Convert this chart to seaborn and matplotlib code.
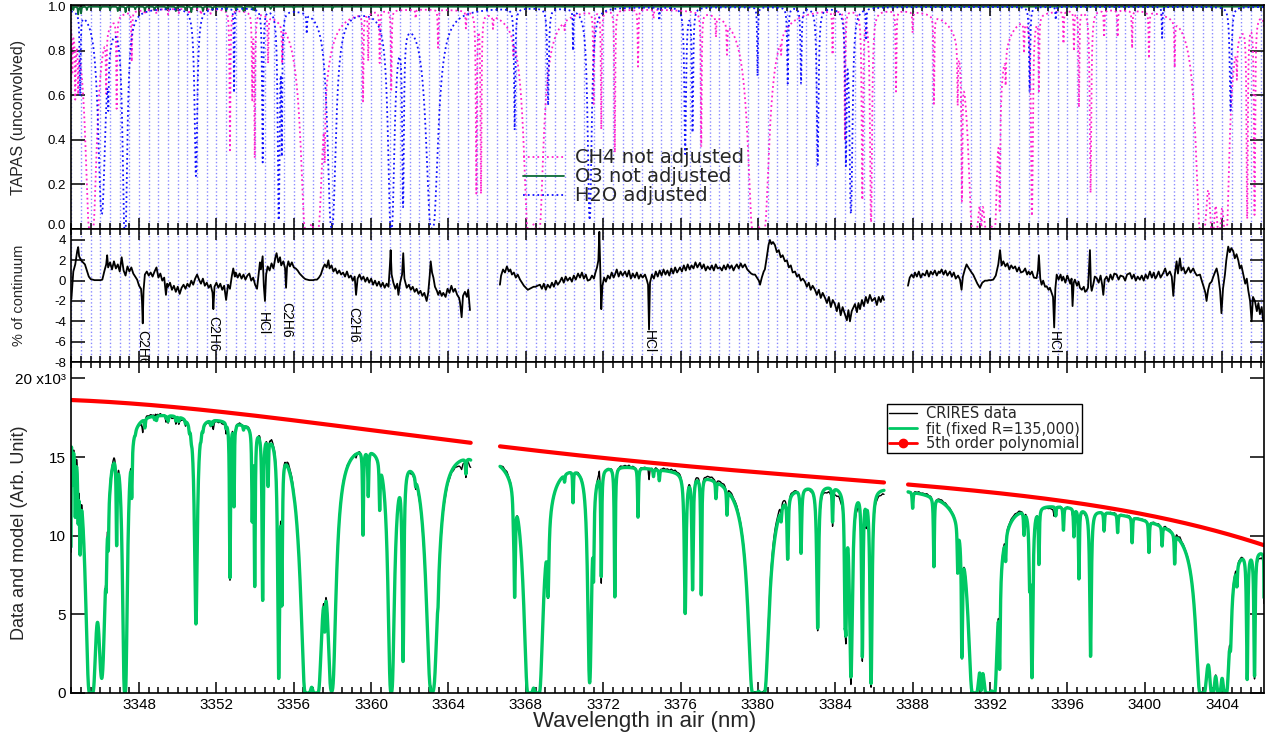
import numpy as np
import pandas as pd
import matplotlib
matplotlib.use("Agg")
import matplotlib.pyplot as plt
import seaborn as sns
from matplotlib.lines import Line2D
from matplotlib.ticker import MultipleLocator, FixedLocator, FuncFormatter

sns.set_theme(style="ticks")
plt.rcParams["font.family"] = ["Liberation Sans", "DejaVu Sans"]
plt.rcParams["axes.unicode_minus"] = False

# ---------------------------------------------------------------------------
# Telluric line lists (centre nm, peak optical depth, Lorentz half width nm)
# ---------------------------------------------------------------------------
H2O_CENTER = [3344.95, 3346.07, 3346.41, 3347.27, 3350.94, 3352.91, 3354.39, 3355.22,
              3355.38, 3356.67, 3357.96, 3361.04, 3361.65, 3363.15, 3367.42, 3369.15,
              3370.44, 3371.30, 3374.90, 3376.24, 3376.62, 3379.98, 3381.54, 3382.23,
              3383.09, 3384.55, 3384.81, 3385.60, 3394.05, 3395.40, 3400.90, 3404.44]
H2O_TAU = [0.48, 2.7, 0.31, 8.0, 1.43, 0.49, 1.2, 3.2,
           1.0, 0.094, 5.0, 6.0, 2.2, 6.0, 0.8, 0.58,
           0.2, 3.2, 0.06, 1.08, 0.82, 0.37, 0.42, 0.42,
           1.24, 1.17, 2.66, 0.15, 0.48, 0.06, 0.15, 0.63]
H2O_WIDTH = [0.025, 0.12, 0.02, 0.045, 0.06, 0.015, 0.025, 0.03,
             0.02, 0.02, 0.10, 0.07, 0.03, 0.13, 0.03, 0.04,
             0.015, 0.06, 0.02, 0.04, 0.03, 0.02, 0.03, 0.03,
             0.04, 0.03, 0.05, 0.015, 0.03, 0.02, 0.02, 0.045]

CH4_CENTER = [3344.55, 3344.70, 3344.85, 3345.52, 3346.30, 3346.84, 3347.62, 3348.30,
              3348.90, 3349.50, 3350.05, 3350.60, 3351.20, 3351.70, 3352.70, 3353.85,
              3353.98, 3354.67, 3355.40, 3356.70, 3357.15, 3357.60, 3359.58, 3359.85,
              3360.44, 3361.04, 3362.30, 3363.46, 3364.90, 3365.44, 3365.68, 3366.30,
              3367.35, 3368.20, 3368.60, 3370.00, 3371.50, 3371.90, 3372.60, 3373.80,
              3374.60, 3377.07, 3377.83, 3378.40, 3379.83, 3380.23, 3381.20, 3383.86,
              3384.50, 3385.40, 3385.85, 3387.14, 3388.00, 3389.10, 3390.33, 3390.55,
              3391.20, 3391.55, 3391.90, 3392.20, 3392.50, 3392.81, 3393.76, 3394.17,
              3394.53, 3395.80, 3396.34, 3396.60, 3397.20, 3397.90, 3398.60, 3399.35,
              3400.22, 3401.55, 3402.97, 3403.50, 3403.84, 3404.18, 3404.77, 3405.30,
              3405.68, 3406.25]
CH4_TAU = [0.25, 0.40, 0.30, 20.0, 0.35, 0.56, 0.26, 0.02,
           0.02, 0.025, 0.02, 0.025, 0.025, 0.02, 1.05, 0.5,
           1.1, 0.25, 0.2, 40.0, 40.0, 0.6, 0.52, 0.25,
           0.27, 0.45, 0.04, 0.19, 0.08, 1.8, 1.8, 0.06,
           0.08, 40.0, 40.0, 0.04, 0.55, 0.78, 1.05, 0.30,
           0.04, 0.97, 0.10, 0.16, 40.0, 40.0, 0.08, 0.22,
           0.9, 2.0, 3.5, 0.46, 0.1, 0.53, 0.39, 1.8,
           40.0, 3.0, 40.0, 15.0, 1.9, 0.2, 0.16, 2.8,
           0.43, 0.16, 0.2, 0.58, 1.8, 0.13, 0.13, 0.19,
           0.24, 0.25, 40.0, 12.0, 12.0, 15.0, 0.2, 3.0,
           2.7, 0.5]
CH4_WIDTH = [0.02, 0.02, 0.02, 0.066, 0.02, 0.02, 0.02, 0.02,
             0.02, 0.02, 0.02, 0.02, 0.02, 0.02, 0.02, 0.02,
             0.02, 0.02, 0.02, 0.05, 0.05, 0.02, 0.02, 0.02,
             0.02, 0.02, 0.02, 0.02, 0.02, 0.02, 0.02, 0.02,
             0.02, 0.045, 0.045, 0.02, 0.02, 0.02, 0.02, 0.02,
             0.02, 0.02, 0.02, 0.02, 0.05, 0.05, 0.02, 0.02,
             0.02, 0.025, 0.03, 0.02, 0.02, 0.02, 0.02, 0.02,
             0.05, 0.03, 0.05, 0.04, 0.02, 0.02, 0.02, 0.03,
             0.02, 0.02, 0.02, 0.02, 0.03, 0.02, 0.02, 0.02,
             0.02, 0.02, 0.05, 0.05, 0.05, 0.05, 0.02, 0.02,
             0.02, 0.03]

O3_CENTER = [3344.60, 3344.85, 3345.00, 3345.30, 3346.00, 3346.50, 3346.90, 3347.30,
             3347.80, 3348.30, 3348.80, 3349.40, 3349.90, 3350.40, 3350.70, 3351.30,
             3351.80, 3352.50, 3353.00, 3353.40, 3353.90, 3354.80, 3356.00, 3358.00,
             3360.50, 3366.00, 3372.00, 3380.00]
O3_TAU = [0.015, 0.035, 0.03, 0.015, 0.012, 0.015, 0.02, 0.025,
          0.012, 0.02, 0.015, 0.012, 0.02, 0.015, 0.025, 0.02,
          0.015, 0.02, 0.012, 0.02, 0.015, 0.01, 0.008, 0.008,
          0.006, 0.005, 0.005, 0.004]
O3_WIDTH = [0.02] * len(O3_CENTER)

# ---------------------------------------------------------------------------
# Fit residual (wavelength nm, % of continuum) for each detector chip
# ---------------------------------------------------------------------------
RES_CHIP1 = [
    (3344.50, -1.8), (3344.60, 0.9), (3344.70, 1.6), (3344.80, 2.9), (3344.85, 3.3),
    (3344.90, 2.4), (3345.00, 2.0), (3345.10, 1.8), (3345.20, 1.6), (3345.30, 1.0),
    (3345.40, 0.4), (3345.50, 0.15), (3345.60, 0.1), (3345.70, 0.05), (3345.80, 0.05),
    (3345.90, 0.05), (3346.00, 0.05), (3346.10, 0.1), (3346.20, 0.9), (3346.30, 1.6),
    (3346.35, 2.5), (3346.40, 1.3), (3346.50, 1.8), (3346.60, 1.1), (3346.70, 1.9),
    (3346.80, 1.2), (3346.90, 1.6), (3347.00, 0.9), (3347.10, 2.3), (3347.20, 1.0),
    (3347.30, 0.5), (3347.40, 1.4), (3347.50, 0.9), (3347.60, 1.3), (3347.70, 0.7),
    (3347.80, 0.4), (3347.90, 0.1), (3348.00, -0.5), (3348.10, -0.8), (3348.15, -2.0),
    (3348.19, -4.2), (3348.23, -1.0), (3348.30, 0.6), (3348.40, 0.9), (3348.50, 0.5),
    (3348.60, 0.8), (3348.70, 0.4), (3348.80, 0.9), (3348.90, 1.3), (3349.00, 0.3),
    (3349.10, 0.7), (3349.20, 0.0), (3349.30, 0.3), (3349.39, -1.4), (3349.45, -0.3),
    (3349.50, -0.6), (3349.60, -0.2), (3349.70, -0.9), (3349.80, -0.5), (3349.90, -1.1),
    (3350.00, -0.6), (3350.10, -1.3), (3350.20, -0.7), (3350.30, -0.4), (3350.40, -0.8),
    (3350.50, -0.3), (3350.60, -0.6), (3350.70, 0.0), (3350.80, -0.4), (3350.90, 0.2),
    (3351.00, 0.6), (3351.10, 0.1), (3351.20, -0.3), (3351.30, 0.2), (3351.40, -0.5),
    (3351.50, -0.2), (3351.60, -0.7), (3351.70, -0.4), (3351.80, -1.2), (3351.84, -2.8),
    (3351.90, -0.6), (3352.00, -0.2), (3352.10, -0.7), (3352.20, -0.3), (3352.30, -0.9),
    (3352.40, -0.5), (3352.50, -1.9), (3352.60, -0.4), (3352.70, -0.8), (3352.80, 0.5),
    (3352.87, 1.2), (3352.95, 0.4), (3353.00, 0.8), (3353.10, 0.3), (3353.20, 0.7),
    (3353.30, 0.2), (3353.40, 0.6), (3353.50, 0.1), (3353.60, 0.5), (3353.70, 0.7),
    (3353.80, 0.0), (3353.90, 0.3), (3354.00, -0.4), (3354.10, -0.8), (3354.20, 0.9),
    (3354.25, 1.8), (3354.30, 1.1), (3354.39, 2.4), (3354.45, -0.5), (3354.51, -2.0),
    (3354.57, 0.6), (3354.65, 1.4), (3354.75, 1.0), (3354.85, 1.7), (3354.95, 1.2),
    (3355.05, 2.3), (3355.11, 2.7), (3355.20, 1.8), (3355.29, 2.3), (3355.35, 1.5),
    (3355.46, 1.9), (3355.55, 1.2), (3355.60, -0.7), (3355.65, 1.3), (3355.72, 1.9),
    (3355.80, 1.4), (3355.90, 1.8), (3356.00, 1.3), (3356.10, 1.2), (3356.20, 1.0),
    (3356.30, 0.7), (3356.40, 0.5), (3356.50, 0.3), (3356.60, 0.15), (3356.70, 0.1),
    (3356.80, 0.05), (3356.90, 0.05), (3357.00, 0.05), (3357.10, 0.1), (3357.20, 0.1),
    (3357.30, 0.3), (3357.40, 0.6), (3357.50, 1.2), (3357.60, 1.6), (3357.70, 1.3),
    (3357.79, 2.0), (3357.85, 1.2), (3357.95, 1.5), (3358.05, 0.9), (3358.15, 1.2),
    (3358.25, 0.7), (3358.35, 1.0), (3358.45, 0.6), (3358.55, 0.8), (3358.65, 0.4),
    (3358.75, 0.9), (3358.85, 0.3), (3358.95, 0.5), (3359.05, 0.0), (3359.15, 0.4),
    (3359.22, -1.4), (3359.30, 0.2), (3359.40, 0.6), (3359.50, 0.1), (3359.60, 0.4),
    (3359.70, -0.1), (3359.80, 0.3), (3359.90, -0.2), (3360.00, 0.2), (3360.10, -0.4),
    (3360.20, 0.0), (3360.30, -0.5), (3360.40, -0.1), (3360.50, -0.6), (3360.60, -0.2),
    (3360.70, -0.7), (3360.80, -0.3), (3360.90, -0.6), (3360.97, 1.5), (3361.01, 3.0),
    (3361.06, 0.6), (3361.15, -0.2), (3361.25, -0.8), (3361.35, -0.3), (3361.41, -1.4),
    (3361.50, -0.2), (3361.60, 0.6), (3361.66, 2.7), (3361.72, 0.2), (3361.84, -0.7),
    (3361.95, -0.4), (3362.05, -0.9), (3362.15, -0.6), (3362.25, -1.1), (3362.35, -0.8),
    (3362.45, -1.3), (3362.55, -1.0), (3362.65, -1.5), (3362.75, -1.2), (3362.87, -2.0),
    (3362.95, -1.2), (3363.03, 0.5), (3363.08, 1.9), (3363.15, 0.8), (3363.22, 0.3),
    (3363.30, -0.6), (3363.40, -1.0), (3363.47, -1.4), (3363.55, -1.0), (3363.65, -1.5),
    (3363.73, -1.2), (3363.85, -1.6), (3363.95, -0.8), (3364.05, -1.2), (3364.15, -0.5),
    (3364.25, -1.1), (3364.34, -0.8), (3364.45, -1.4), (3364.55, -1.7), (3364.60, -2.2),
    (3364.68, -3.6), (3364.75, -1.5), (3364.85, -1.1), (3364.95, -1.6), (3365.02, -0.9),
    (3365.11, -2.9)]

RES_CHIP2 = [
    (3366.66, -0.4), (3366.72, 0.5), (3366.82, 1.1), (3366.92, 0.8), (3367.02, 1.4),
    (3367.12, 0.9), (3367.20, 1.1), (3367.28, 0.6), (3367.38, 0.8), (3367.48, 0.3),
    (3367.58, 0.6), (3367.70, 0.1), (3367.80, -0.2), (3367.90, -0.5), (3368.00, -0.7),
    (3368.10, -0.9), (3368.20, -0.8), (3368.30, -0.7), (3368.40, -0.6), (3368.50, -0.6),
    (3368.60, -0.5), (3368.73, -0.4), (3368.83, -0.8), (3368.93, -0.3), (3369.03, -0.9),
    (3369.13, -0.4), (3369.25, -0.7), (3369.35, -0.2), (3369.45, -0.6), (3369.55, 0.0),
    (3369.65, -0.4), (3369.76, -0.1), (3369.86, 0.3), (3369.96, -0.2), (3370.06, 0.4),
    (3370.16, 0.0), (3370.28, 0.3), (3370.38, -0.1), (3370.48, 0.5), (3370.58, 0.1),
    (3370.70, 0.7), (3370.80, 0.3), (3370.90, 0.8), (3371.00, 0.2), (3371.10, 0.6),
    (3371.20, 0.0), (3371.32, 0.1), (3371.42, 0.5), (3371.52, 0.2), (3371.60, 0.8),
    (3371.68, 1.3), (3371.75, 2.0), (3371.80, 4.8), (3371.85, 1.0), (3371.90, -2.8),
    (3371.96, -0.5), (3372.05, 0.3), (3372.14, -0.1), (3372.24, 0.5), (3372.34, 0.2),
    (3372.44, 0.8), (3372.54, 0.3), (3372.61, 0.6), (3372.70, 1.1), (3372.80, 0.4),
    (3372.90, 0.9), (3373.00, 0.5), (3373.13, 0.9), (3373.23, 0.4), (3373.33, 1.0),
    (3373.43, 0.2), (3373.53, 0.7), (3373.64, 0.3), (3373.74, 0.8), (3373.84, 0.2),
    (3373.94, 0.6), (3374.04, 0.3), (3374.16, 0.6), (3374.25, 0.1), (3374.32, -0.4),
    (3374.37, -4.8), (3374.42, -0.2), (3374.52, 0.6), (3374.62, 0.2), (3374.72, 0.9),
    (3374.82, 0.4), (3374.92, 1.0), (3375.02, 0.5), (3375.12, 1.1), (3375.22, 0.6),
    (3375.32, 1.0), (3375.42, 0.5), (3375.52, 1.2), (3375.62, 0.7), (3375.72, 1.3),
    (3375.82, 0.8), (3375.97, 1.3), (3376.07, 0.9), (3376.17, 1.5), (3376.27, 1.0),
    (3376.37, 1.6), (3376.47, 1.1), (3376.57, 1.5), (3376.67, 1.2), (3376.77, 1.8),
    (3376.87, 1.3), (3377.00, 1.75), (3377.10, 1.2), (3377.20, 1.6), (3377.30, 1.0),
    (3377.40, 1.4), (3377.52, 1.1), (3377.62, 1.5), (3377.72, 1.0), (3377.82, 1.6),
    (3377.92, 1.2), (3378.04, 1.3), (3378.14, 1.0), (3378.24, 1.5), (3378.34, 1.1),
    (3378.44, 1.6), (3378.54, 1.2), (3378.64, 1.5), (3378.74, 1.0), (3378.81, 1.3),
    (3378.91, 1.6), (3379.01, 1.2), (3379.11, 1.7), (3379.21, 1.3), (3379.33, 1.6),
    (3379.45, 1.1), (3379.55, 0.9), (3379.65, 0.7), (3379.75, 0.6), (3379.85, 0.6),
    (3379.95, 0.3), (3380.05, 0.0), (3380.11, -0.4), (3380.20, 0.3), (3380.30, 0.9),
    (3380.36, 1.1), (3380.45, 2.2), (3380.55, 3.5), (3380.62, 4.0), (3380.70, 3.6),
    (3380.78, 3.8), (3380.88, 3.5), (3380.98, 2.8), (3381.08, 3.0), (3381.18, 2.3),
    (3381.28, 2.5), (3381.40, 1.9), (3381.50, 2.0), (3381.60, 1.3), (3381.70, 1.5),
    (3381.80, 0.8), (3381.92, 0.9), (3382.02, 0.4), (3382.12, 0.6), (3382.22, 0.0),
    (3382.32, 0.2), (3382.43, -0.1), (3382.53, -0.6), (3382.63, -0.2), (3382.73, -0.9),
    (3382.83, -0.5), (3382.95, -0.9), (3383.05, -1.4), (3383.15, -0.9), (3383.25, -1.7),
    (3383.35, -1.2), (3383.47, -1.7), (3383.57, -2.2), (3383.67, -1.6), (3383.77, -2.6),
    (3383.87, -1.9), (3383.98, -2.3), (3384.08, -3.0), (3384.18, -2.2), (3384.28, -3.4),
    (3384.38, -2.6), (3384.50, -3.3), (3384.60, -3.9), (3384.68, -2.9), (3384.76, -4.0),
    (3384.85, -3.0), (3385.02, -2.3), (3385.12, -3.1), (3385.20, -2.2), (3385.28, -2.8),
    (3385.38, -1.9), (3385.48, -2.5), (3385.58, -1.6), (3385.68, -2.2), (3385.79, -1.4),
    (3385.90, -2.0), (3386.05, -1.7), (3386.15, -2.4), (3386.25, -1.6), (3386.35, -2.1),
    (3386.45, -1.5), (3386.52, -1.9)]

RES_CHIP3 = [
    (3387.76, -0.5), (3387.85, 0.3), (3387.95, 0.6), (3388.05, 0.3), (3388.12, 0.8),
    (3388.22, 0.4), (3388.32, 0.9), (3388.42, 0.3), (3388.52, 0.7), (3388.64, 0.5),
    (3388.74, 1.0), (3388.84, 0.4), (3388.94, 0.9), (3389.04, 0.6), (3389.15, 1.0),
    (3389.25, 0.5), (3389.35, 0.9), (3389.41, 0.75), (3389.50, 1.1), (3389.60, 0.6),
    (3389.70, 1.0), (3389.80, 0.5), (3389.93, 0.9), (3390.03, 0.4), (3390.13, 0.8),
    (3390.23, 0.2), (3390.35, 0.5), (3390.45, 0.1), (3390.53, -0.9), (3390.60, 0.4),
    (3390.70, 1.1), (3390.79, 1.6), (3390.88, 1.3), (3390.98, 1.0), (3391.05, 0.8),
    (3391.13, 0.6), (3391.25, 0.1), (3391.35, -0.3), (3391.48, -0.7), (3391.60, -0.2),
    (3391.74, 0.0), (3391.85, 0.0), (3391.95, 0.05), (3392.05, 0.05), (3392.17, 0.1),
    (3392.30, 0.5), (3392.43, 1.6), (3392.52, 3.0), (3392.60, 1.5), (3392.69, 1.9),
    (3392.80, 1.4), (3392.90, 1.7), (3393.00, 1.1), (3393.10, 1.5), (3393.20, 1.2),
    (3393.30, 1.4), (3393.40, 0.9), (3393.50, 1.3), (3393.60, 0.8), (3393.72, 0.9),
    (3393.82, 1.2), (3393.92, 0.6), (3394.00, 0.9), (3394.07, 0.6), (3394.17, 0.9),
    (3394.27, 0.3), (3394.41, 0.25), (3394.48, 1.0), (3394.53, 2.5), (3394.60, 0.2),
    (3394.67, -0.4), (3394.75, 0.0), (3394.85, -0.6), (3394.93, -0.55), (3395.03, -0.9),
    (3395.10, -0.7), (3395.19, -1.2), (3395.26, -1.6), (3395.32, -4.6), (3395.38, -0.8),
    (3395.45, 0.6), (3395.55, 0.1), (3395.65, 0.6), (3395.72, 0.0), (3395.79, 0.4),
    (3395.90, -0.2), (3396.00, 0.5), (3396.05, 0.25), (3396.15, -0.3), (3396.22, 0.2),
    (3396.27, -2.5), (3396.33, -0.2), (3396.39, 0.1), (3396.50, -0.5), (3396.58, -0.1),
    (3396.65, -0.7), (3396.75, -0.9), (3396.85, -0.6), (3396.92, -1.1), (3396.99, -1.0),
    (3397.07, -0.7), (3397.17, 3.0), (3397.22, -0.5), (3397.26, -1.0), (3397.35, -0.3),
    (3397.42, 0.4), (3397.52, 0.25), (3397.62, -0.2), (3397.72, 0.5), (3397.80, -0.4),
    (3397.86, -1.4), (3397.93, 0.1), (3398.03, 0.4), (3398.13, -0.1), (3398.23, 0.6),
    (3398.33, 0.1), (3398.43, 0.7), (3398.55, 0.6), (3398.65, 0.1), (3398.75, 0.5),
    (3398.89, 0.4), (3398.99, 0.0), (3399.09, 0.6), (3399.24, 0.75), (3399.34, 0.2),
    (3399.44, 0.6), (3399.54, 0.0), (3399.64, 0.4), (3399.75, 0.1), (3399.85, 0.5),
    (3399.95, 0.0), (3400.05, 0.6), (3400.15, 0.2), (3400.27, 0.9), (3400.37, 0.3),
    (3400.47, 0.8), (3400.55, 0.2), (3400.62, 0.4), (3400.72, 0.9), (3400.82, 0.3),
    (3400.96, 0.75), (3401.06, 1.2), (3401.16, 0.5), (3401.30, 0.9), (3401.40, 0.4),
    (3401.48, -1.5), (3401.56, 0.6), (3401.65, 1.9), (3401.72, 0.7), (3401.82, 2.2),
    (3401.90, 1.0), (3402.00, 1.3), (3402.10, 0.7), (3402.17, 0.9), (3402.27, 1.3),
    (3402.37, 0.8), (3402.51, 1.2), (3402.60, 0.8), (3402.70, 0.5), (3402.86, 0.6),
    (3402.95, 0.0), (3403.05, -0.6), (3403.14, -1.2), (3403.20, -2.0), (3403.28, -0.9),
    (3403.36, -0.3), (3403.46, -0.1), (3403.55, 0.4), (3403.65, 0.9), (3403.72, 1.2),
    (3403.80, 0.5), (3403.90, -1.0), (3403.97, -3.2), (3404.05, -0.8), (3404.15, 0.6),
    (3404.22, 2.0), (3404.32, 3.35), (3404.40, 2.8), (3404.48, 3.2), (3404.58, 2.9),
    (3404.66, 2.2), (3404.75, 2.6), (3404.84, 2.0), (3404.92, 1.2), (3405.00, 1.5),
    (3405.10, 0.6), (3405.20, -0.3), (3405.28, 0.2), (3405.36, -1.0), (3405.45, -2.0),
    (3405.53, -4.0), (3405.60, -1.6), (3405.70, -2.0), (3405.80, -3.0), (3405.88, -2.2),
    (3405.96, -3.3), (3406.05, -2.6), (3406.13, -4.0)]

# Continuum level sampled along the spectrum (counts); a 5th order polynomial runs through it
POLY_WL = [3344.48, 3347.0, 3351.15, 3356.3, 3361.5, 3365.15, 3366.66, 3371.8, 3377.0,
           3382.2, 3386.52, 3387.76, 3392.5, 3397.7, 3400.5, 3402.9, 3406.17]
POLY_VAL = [18600, 18450, 18100, 17300, 16300, 15800, 15800, 15100, 14400,
            13700, 13300, 13300, 12700, 11900, 11250, 10500, 9400]

# Chip limits (nm)
CHIP_START = [3344.48, 3366.66, 3387.76]
CHIP_END = [3365.15, 3386.52, 3406.17]

# Identified residual features
FEATURE_NAME = ["C2H6", "C2H6", "HCl", "C2H6", "C2H6", "HCl", "HCl"]
FEATURE_WL = [3348.19, 3351.84, 3354.39, 3355.60, 3359.06, 3374.37, 3395.32]
FEATURE_Y = [-4.9, -3.5, -3.1, -2.1, -2.6, -4.9, -5.0]

WL_MIN, WL_MAX = 3344.48, 3406.17

# ---------------------------------------------------------------------------
wl = np.arange(WL_MIN, WL_MAX + 0.002, 0.004)


def transmission(centers, tau, width, base=0.0):
    od = np.full_like(wl, base)
    for c, t, g in zip(centers, tau, width):
        od += t * g ** 2 / ((wl - c) ** 2 + g ** 2)
    return np.exp(-od)


t_ch4 = transmission(CH4_CENTER, CH4_TAU, CH4_WIDTH, 0.004)
t_o3 = transmission(O3_CENTER, O3_TAU, O3_WIDTH, 0.003)
t_h2o = transmission(H2O_CENTER, H2O_TAU, H2O_WIDTH, 0.004)

# instrumental profile, R = 135,000
sig = (3375.0 / 135000.0) / 2.3548 / 0.004
k = np.arange(-12, 13)
kern = np.exp(-0.5 * (k / sig) ** 2)
kern /= kern.sum()
t_conv = np.convolve(t_ch4 * t_o3 * t_h2o, kern, mode="same")

u0, us = 3375.0, 31.0
poly = np.polyfit((np.array(POLY_WL) - u0) / us, POLY_VAL, 5)
continuum = np.polyval(poly, (wl - u0) / us)

residuals = [pd.DataFrame(r, columns=["wl", "pct"]) for r in (RES_CHIP1, RES_CHIP2, RES_CHIP3)]

# ---------------------------------------------------------------------------
fig = plt.figure(figsize=(12.7, 7.34), dpi=100)
L, W = 71 / 1270, 1193 / 1270
ax_t = fig.add_axes([L, 1 - 229 / 734, W, 224 / 734])
ax_m = fig.add_axes([L, 1 - 362 / 734, W, 133 / 734])
ax_b = fig.add_axes([L, 1 - 693 / 734, W, 331 / 734])

MAG, BLU, OZN, FITC = "#ff1fcf", "#1010ff", "#0b6b35", "#00c864"
sns.lineplot(x=wl, y=t_ch4, ax=ax_t, color=MAG, lw=1.3, linestyle=":",
             estimator=None, sort=False, label="CH4 not adjusted")
sns.lineplot(x=wl, y=t_o3, ax=ax_t, color=OZN, lw=1.3,
             estimator=None, sort=False, label="O3 not adjusted")
sns.lineplot(x=wl, y=t_h2o, ax=ax_t, color=BLU, lw=1.3, linestyle=":",
             estimator=None, sort=False, label="H2O adjusted")

for c0, c1, res in zip(CHIP_START, CHIP_END, residuals):
    sel = (wl >= c0) & (wl <= c1)
    x = wl[sel]
    cont = continuum[sel]
    fit = cont * t_conv[sel]
    data = fit + np.interp(x, res["wl"], res["pct"]) / 100.0 * cont
    sns.lineplot(data=res, x="wl", y="pct", ax=ax_m, color="black", lw=1.3,
                 estimator=None, sort=False)
    sns.lineplot(x=x, y=data, ax=ax_b, color="black", lw=1.0, estimator=None, sort=False)
    sns.lineplot(x=x, y=fit, ax=ax_b, color=FITC, lw=2.4, estimator=None, sort=False)
    sns.lineplot(x=x, y=cont, ax=ax_b, color="#ff0000", lw=3.0, estimator=None, sort=False)

for name, fx, fy in zip(FEATURE_NAME, FEATURE_WL, FEATURE_Y):
    ax_m.text(fx, fy, name, rotation=270, ha="center", va="top", fontsize=10,
              color="black")

# ---------------------------------------------------------------------------
for ax in (ax_t, ax_m, ax_b):
    ax.set_xlim(WL_MIN, WL_MAX)
    ax.xaxis.set_major_locator(MultipleLocator(4))
    ax.xaxis.set_minor_locator(MultipleLocator(0.5))
    ax.tick_params(which="both", direction="in", top=True, right=True,
                   colors="black", width=1.1, labelsize=9.5)
    ax.tick_params(which="major", length=8)
    ax.tick_params(which="minor", length=4)
    ax.tick_params(axis="y", which="major", length=10)
    for s in ax.spines.values():
        s.set_color("black")
        s.set_linewidth(1.2)
    ax.set_xlabel("")
    ax.set_ylabel("")

for ax in (ax_t, ax_m):
    ax.grid(True, which="both", axis="x", color="#8a8aff", linestyle=":", linewidth=1.0)
    ax.tick_params(axis="x", labelbottom=False)
    ax.set_axisbelow(True)

ax_t.set_ylim(0, 1.0045)
ax_t.yaxis.set_major_locator(FixedLocator([0.0, 0.2, 0.4, 0.6, 0.8, 1.0]))
ax_t.yaxis.set_major_formatter(FuncFormatter(lambda v, p: f"{v:.1f}"))
ax_t.set_ylabel("TAPAS (unconvolved)", fontsize=11.5)
ax_t.yaxis.set_label_coords(-0.038, 0.5)
ax_t.yaxis.get_major_ticks()[0].label1.set_verticalalignment("baseline")

ax_m.set_ylim(-8, 5.08)
ax_m.yaxis.set_major_locator(MultipleLocator(2))
ax_m.yaxis.set_major_formatter(FuncFormatter(lambda v, p: f"{v:.0f}"))
ax_m.set_ylabel("% of continuum", fontsize=10.5)
ax_m.yaxis.set_label_coords(-0.038, 0.5)

ax_b.set_ylim(0, 21040)
ax_b.yaxis.set_major_locator(MultipleLocator(5000))
ax_b.yaxis.set_major_formatter(
    FuncFormatter(lambda v, p: "20 x10³" if round(v) == 20000 else f"{v / 1000:.0f}"))
ax_b.tick_params(axis="x", labelsize=11)
ax_b.tick_params(axis="y", labelsize=11)
ax_b.set_ylabel("Data and model (Arb. Unit)", fontsize=13)
ax_b.yaxis.set_label_coords(-0.036, 0.483)
ax_b.set_xlabel("Wavelength in air (nm)", fontsize=16)
ax_b.xaxis.set_label_coords(0.481, -0.055)

ax_t.legend(loc="upper left", bbox_to_anchor=(0.379, 0.36), frameon=False,
            prop={"family": "DejaVu Sans", "size": 14}, handlelength=2.1,
            handletextpad=0.55, labelspacing=0.0, borderpad=0, borderaxespad=0)

handles = [Line2D([], [], color="black", lw=1.0),
           Line2D([], [], color=FITC, lw=2.0),
           Line2D([], [], color="#ff0000", lw=2.0, marker="o", markersize=6)]
leg = ax_b.legend(handles, ["CRIRES data", "fit (fixed R=135,000)", "5th order polynomial"],
                  loc="upper left", bbox_to_anchor=(0.684, 0.873), frameon=True,
                  fancybox=False, edgecolor="black", framealpha=1,
                  prop={"family": "DejaVu Sans", "size": 10.5}, handlelength=1.9,
                  handletextpad=0.6, labelspacing=0.0, borderpad=0.15, borderaxespad=0)
leg.get_frame().set_linewidth(1.0)

fig.savefig("out.png", dpi=100)
